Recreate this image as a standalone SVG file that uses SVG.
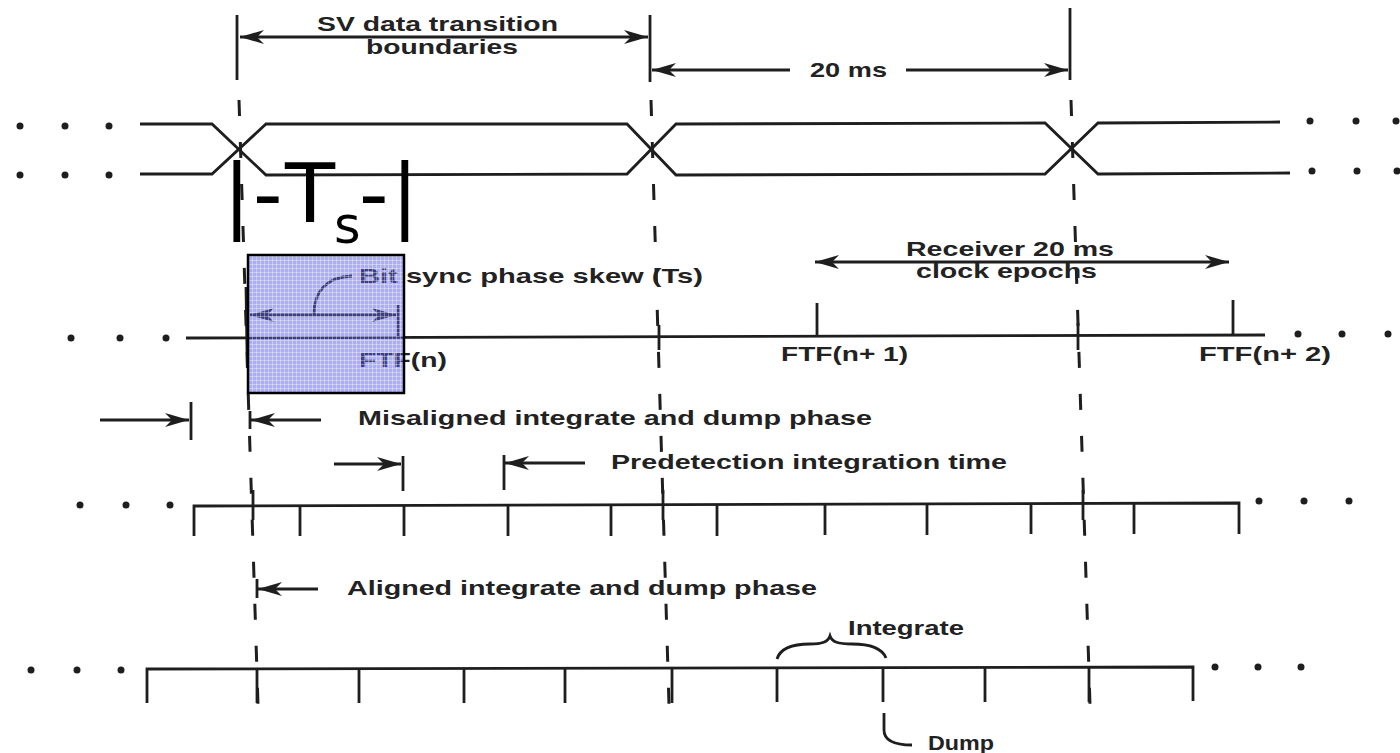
<svg xmlns="http://www.w3.org/2000/svg" width="1400" height="753" viewBox="0 0 1400 753">
<defs>
<style>
.ln{stroke:#1e1e1e;stroke-width:2.8;fill:none;stroke-linecap:butt}
.dash{stroke:#1e1e1e;stroke-width:3;fill:none;stroke-dasharray:16 26}
.tx{font-family:"Liberation Sans",Arial,sans-serif;font-weight:bold;font-size:20.5px;fill:#222}
.dot{fill:#1e1e1e}
.big{font-family:"DejaVu Sans",sans-serif;fill:#000}
</style>
<marker id="ah" viewBox="0 0 24 14" refX="24" refY="7" markerWidth="24" markerHeight="14" markerUnits="userSpaceOnUse" orient="auto-start-reverse">
<path d="M0,0 L24,7 L0,14 L7,7 Z" fill="#1e1e1e"/>
</marker>
<pattern id="grid" width="4" height="4" patternUnits="userSpaceOnUse">
<path d="M0,0.5 H4 M0.5,0 V4" stroke="#ffffff" stroke-width="1" stroke-opacity="0.35"/>
</pattern>
</defs>
<rect width="1400" height="753" fill="#ffffff"/>

<g id="dots">
<circle class="dot" cx="20" cy="126" r="3.5"/><circle class="dot" cx="65" cy="126" r="3.5"/><circle class="dot" cx="109" cy="126" r="3.5"/>
<circle class="dot" cx="20" cy="175" r="3.5"/><circle class="dot" cx="65" cy="175" r="3.5"/><circle class="dot" cx="109" cy="175" r="3.5"/>
<circle class="dot" cx="1310" cy="121" r="3.5"/><circle class="dot" cx="1356" cy="121" r="3.5"/><circle class="dot" cx="1396" cy="121" r="3.5"/>
<circle class="dot" cx="1312" cy="171" r="3.5"/><circle class="dot" cx="1357" cy="171" r="3.5"/><circle class="dot" cx="1397" cy="171" r="3.5"/>
<circle class="dot" cx="71" cy="338" r="3.5"/><circle class="dot" cx="120" cy="338" r="3.5"/><circle class="dot" cx="166" cy="338" r="3.5"/>
<circle class="dot" cx="1298" cy="334" r="3.5"/><circle class="dot" cx="1342" cy="334" r="3.5"/><circle class="dot" cx="1388" cy="334" r="3.5"/>
<circle class="dot" cx="80" cy="505" r="3.5"/><circle class="dot" cx="126" cy="505" r="3.5"/><circle class="dot" cx="170" cy="505" r="3.5"/>
<circle class="dot" cx="1259" cy="501" r="3.5"/><circle class="dot" cx="1304" cy="501" r="3.5"/><circle class="dot" cx="1349" cy="501" r="3.5"/>
<circle class="dot" cx="31" cy="670" r="3.5"/><circle class="dot" cx="77" cy="670" r="3.5"/><circle class="dot" cx="121" cy="670" r="3.5"/>
<circle class="dot" cx="1215" cy="667" r="3.5"/><circle class="dot" cx="1258" cy="667" r="3.5"/><circle class="dot" cx="1301" cy="667" r="3.5"/>
</g>

<g id="boundaries">
<line class="ln" x1="237" y1="15" x2="237" y2="80"/>
<line class="ln" x1="650" y1="15" x2="650" y2="82"/>
<line class="ln" x1="1070" y1="8" x2="1070" y2="80"/>
<line class="dash" x1="239" y1="100" x2="258" y2="705"/>
<line class="dash" x1="651" y1="100" x2="669" y2="705"/>
<line class="dash" x1="1071" y1="100" x2="1090" y2="705"/>
</g>

<g id="sv-data-waveform">
<path class="ln" d="M140,124 L212,124 L266,175 L627,174 L676,124 L1045,123 L1098,174 L1290,173"/>
<path class="ln" d="M140,174 L212,174 L266,124 L627,124 L676,175 L1045,174 L1098,123 L1280,122"/>
</g>

<g id="ftf-timeline">
<path class="ln" d="M186,338 L1265,335"/>
<line class="ln" x1="398" y1="305" x2="398" y2="338"/>
<line class="ln" x1="817" y1="303" x2="817" y2="337"/>
<line class="ln" x1="1233" y1="300" x2="1233" y2="336"/>
<line class="ln" x1="246" y1="287" x2="247" y2="352"/>
<line class="ln" x1="659" y1="325" x2="659" y2="350"/>
<line class="ln" x1="1078" y1="323" x2="1078" y2="350"/>
</g>

<g id="predetection-timeline">
<path class="ln" d="M194,536 L194,506 L1239,503 L1239,534"/>
<line class="ln" x1="300" y1="506" x2="300" y2="536"/>
<line class="ln" x1="404" y1="506" x2="404" y2="536"/>
<line class="ln" x1="508" y1="505" x2="508" y2="536"/>
<line class="ln" x1="611" y1="505" x2="611" y2="536"/>
<line class="ln" x1="717" y1="505" x2="717" y2="536"/>
<line class="ln" x1="825" y1="505" x2="825" y2="535"/>
<line class="ln" x1="927" y1="504" x2="927" y2="535"/>
<line class="ln" x1="1031" y1="504" x2="1031" y2="534"/>
<line class="ln" x1="1134" y1="504" x2="1134" y2="534"/>
<line class="ln" x1="253" y1="490" x2="253" y2="520"/>
<line class="ln" x1="663" y1="490" x2="663" y2="520"/>
<line class="ln" x1="1083" y1="490" x2="1083" y2="520"/>
</g>

<g id="aligned-timeline">
<path class="ln" d="M147,703 L147,669 L1193,667 L1193,701"/>
<line class="ln" x1="257" y1="669" x2="257" y2="703"/>
<line class="ln" x1="359" y1="669" x2="359" y2="703"/>
<line class="ln" x1="464" y1="669" x2="464" y2="703"/>
<line class="ln" x1="565" y1="668" x2="565" y2="703"/>
<line class="ln" x1="672" y1="668" x2="672" y2="703"/>
<line class="ln" x1="777" y1="668" x2="777" y2="702"/>
<line class="ln" x1="883" y1="668" x2="883" y2="702"/>
<line class="ln" x1="985" y1="668" x2="985" y2="702"/>
<line class="ln" x1="1089" y1="667" x2="1089" y2="702"/>
</g>

<g id="connectors">
<line class="ln" x1="240" y1="37" x2="648" y2="37" marker-start="url(#ah)" marker-end="url(#ah)"/>
<line class="ln" x1="790" y1="70" x2="652" y2="70" marker-end="url(#ah)"/>
<line class="ln" x1="906" y1="70" x2="1068" y2="70" marker-end="url(#ah)"/>
<line class="ln" x1="815" y1="262" x2="1229" y2="262" marker-start="url(#ah)" marker-end="url(#ah)"/>
<line class="ln" x1="250" y1="315" x2="396" y2="315" marker-start="url(#ah)" marker-end="url(#ah)"/>
<path class="ln" d="M314,314 C314,292 326,277 352,276"/>
<line class="ln" x1="100" y1="420" x2="189" y2="420" marker-end="url(#ah)"/>
<line class="ln" x1="191" y1="402" x2="191" y2="440"/>
<line class="ln" x1="321" y1="420" x2="251" y2="420" marker-end="url(#ah)"/>
<line class="ln" x1="250" y1="411" x2="250" y2="429"/>
<line class="ln" x1="334" y1="464" x2="401" y2="464" marker-end="url(#ah)"/>
<line class="ln" x1="403" y1="456" x2="403" y2="491"/>
<line class="ln" x1="585" y1="463" x2="505" y2="463" marker-end="url(#ah)"/>
<line class="ln" x1="504" y1="455" x2="504" y2="490"/>
<line class="ln" x1="318" y1="589" x2="258" y2="589" marker-end="url(#ah)"/>
<line class="ln" x1="257" y1="579" x2="257" y2="598"/>
<path class="ln" d="M777,659 C780,649 790,644 810,644 C822,644 828,642 830,636 C832,642 838,644 852,644 C870,644 882,648 886,658"/>
<path class="ln" d="M884,713 L884,730 C884,740 894,745 912,745"/>
</g>

<g id="labels">
<text class="tx" x="317" y="31" textLength="241" lengthAdjust="spacingAndGlyphs">SV data transition</text>
<text class="tx" x="366" y="54" textLength="152" lengthAdjust="spacingAndGlyphs">boundaries</text>
<text class="tx" x="810" y="77" textLength="77" lengthAdjust="spacingAndGlyphs">20 ms</text>
<text class="tx" x="906" y="256" textLength="208" lengthAdjust="spacingAndGlyphs">Receiver 20 ms</text>
<text class="tx" x="916" y="278" textLength="181" lengthAdjust="spacingAndGlyphs">clock epochs</text>
<text class="tx" x="359" y="283" textLength="344" lengthAdjust="spacingAndGlyphs">Bit sync phase skew (Ts)</text>
<text class="tx" x="359" y="367" textLength="88" lengthAdjust="spacingAndGlyphs">FTF(n)</text>
<text class="tx" x="781" y="361" textLength="127" lengthAdjust="spacingAndGlyphs">FTF(n+ 1)</text>
<text class="tx" x="1199" y="361" textLength="132" lengthAdjust="spacingAndGlyphs">FTF(n+ 2)</text>
<text class="tx" x="358" y="425" textLength="514" lengthAdjust="spacingAndGlyphs">Misaligned integrate and dump phase</text>
<text class="tx" x="611" y="469" textLength="396" lengthAdjust="spacingAndGlyphs">Predetection integration time</text>
<text class="tx" x="347" y="595" textLength="470" lengthAdjust="spacingAndGlyphs">Aligned integrate and dump phase</text>
<text class="tx" x="848" y="635" textLength="116" lengthAdjust="spacingAndGlyphs">Integrate</text>
<text class="tx" x="928" y="750" textLength="66" lengthAdjust="spacingAndGlyphs">Dump</text>
</g>

<g id="ts-highlight">
<rect x="248" y="255" width="156" height="138" fill="#5a5af0" fill-opacity="0.5"/>
<rect x="248" y="255" width="156" height="138" fill="url(#grid)" stroke="#000" stroke-width="2.5"/>
</g>

<g id="ts-annotation">
<text class="big" y="222" font-size="82"><tspan x="223">|</tspan><tspan x="253">-</tspan><tspan x="285">T</tspan></text>
<text class="big" x="334" y="243" font-size="51">s</text>
<text class="big" x="359" y="222" font-size="82">-</text>
<text class="big" x="391" y="222" font-size="82">|</text>
</g>
</svg>
